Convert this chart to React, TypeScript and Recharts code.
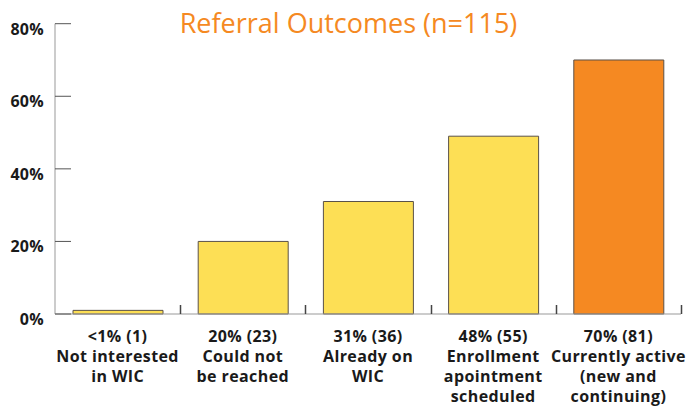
import React from 'react';
import { BarChart, Bar, XAxis, YAxis, Cell } from 'recharts';

const categories = [
  '<1% (1)\nNot interested\nin WIC',
  '20% (23)\nCould not\nbe reached',
  '31% (36)\nAlready on\nWIC',
  '48% (55)\nEnrollment\napointment\nscheduled',
  '70% (81)\nCurrently active\n(new and\ncontinuing)',
];
const percentValues = [1, 20, 31, 49, 70];
const barColors = ['#FDDF55', '#FDDF55', '#FDDF55', '#FDDF55', '#F58922'];
const yTicks = [0, 20, 40, 60, 80];
const title = 'Referral Outcomes (n=115)';

const data = categories.map((label, i) => ({ label, value: percentValues[i] }));

const FONT = '"Open Sans", "DejaVu Sans", sans-serif';
const CHART_W = 688;
const CHART_H = 408;
const Y_AXIS_W = 55;
const MARGIN = { top: 23.7, right: 7, bottom: 0, left: 0 };
const HALF_BAND = (CHART_W - Y_AXIS_W - MARGIN.right - MARGIN.left) / categories.length / 2;

const YTick = (props: any) => {
  const { x, y, payload } = props;
  return (
    <g>
      <line x1={x} x2={x + 16} y1={y} y2={y} stroke="#555" strokeWidth={1} />
      <text x={x - 11} y={y + 11} textAnchor="end" fontFamily={FONT} fontWeight={700} fontSize={16} letterSpacing={0.3} fill="#1a1a1a">
        {payload.value}%
      </text>
    </g>
  );
};

const XTick = (props: any) => {
  const { x, y, payload } = props;
  const lines = String(payload.value).split('\n');
  const bx = Math.round(Number(x) + HALF_BAND);
  const by = Number(y);
  return (
    <g>
      <rect x={bx - 0.25} y={by - 9} width={1.5} height={9} fill="#444" />
      <text x={x} y={y} textAnchor="middle" fontFamily={FONT} fontWeight={700} fontSize={16} letterSpacing={0.4} fill="#1a1a1a">
        {lines.map((l, i) => (
          <tspan key={i} x={x} y={by + 28 + i * 20}>
            {l}
          </tspan>
        ))}
      </text>
    </g>
  );
};

export default function App() {
  return (
    <div style={{ position: 'absolute', left: 0, top: 0, width: CHART_W, height: CHART_H, background: '#fff' }}>
      <svg width={CHART_W} height={50} style={{ position: 'absolute', left: 0, top: 0 }}>
        <text x={348.5} y={32.7} textAnchor="middle" fontFamily={FONT} fontSize={27} fill="#F58922">
          {title}
        </text>
      </svg>
      <div style={{ position: 'absolute', left: 0, top: 0 }}>
        <BarChart width={CHART_W} height={CHART_H} data={data} margin={MARGIN}>
          <XAxis
            dataKey="label"
            height={94}
            interval={0}
            tickSize={0}
            tickMargin={0}
            tickLine={false}
            axisLine={{ stroke: '#999' }}
            tick={(p: any) => <XTick {...p} />}
          />
          <YAxis
            width={Y_AXIS_W}
            domain={[0, 80]}
            ticks={yTicks}
            tickSize={0}
            tickMargin={0}
            tickLine={false}
            axisLine={{ stroke: '#999' }}
            tick={(p: any) => <YTick {...p} />}
          />
          <Bar dataKey="value" barSize={90} stroke="#5a5148" strokeWidth={1} isAnimationActive={false}>
            {data.map((d, i) => (
              <Cell key={i} fill={barColors[i]} />
            ))}
          </Bar>
        </BarChart>
      </div>
    </div>
  );
}
